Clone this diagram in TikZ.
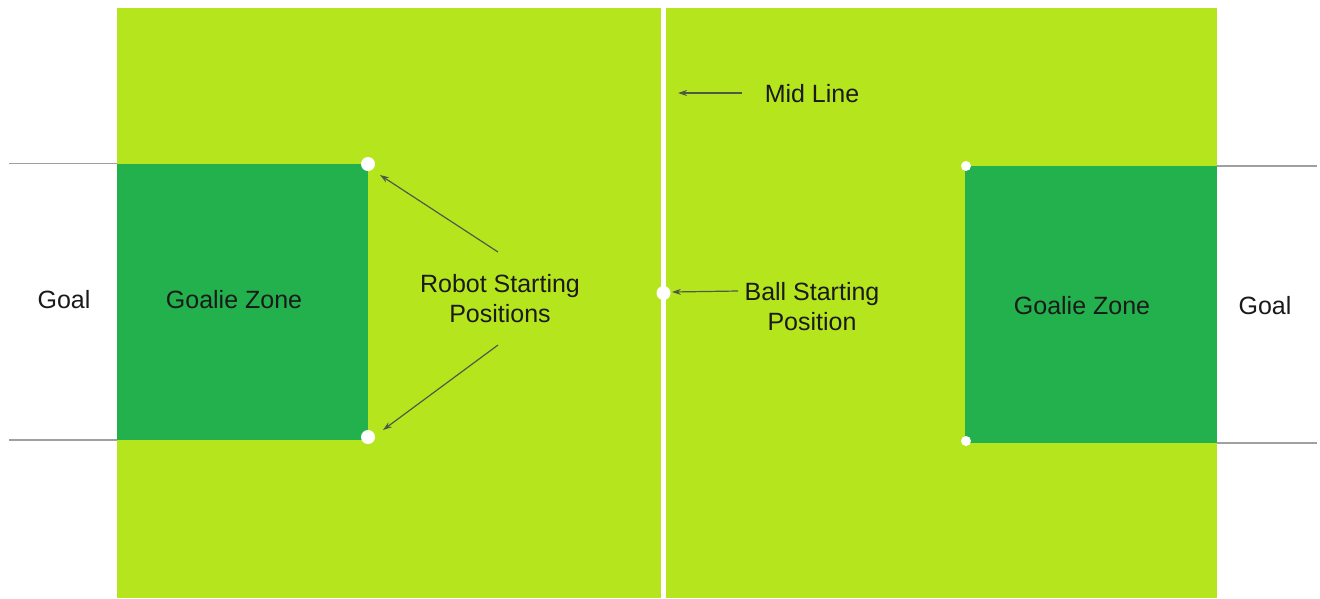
\documentclass[tikz,border=0pt]{standalone}
\usepackage{fontspec}
\setmainfont{Liberation Sans}
\usetikzlibrary{arrows.meta}
\definecolor{lime}{HTML}{B5E61D}
\definecolor{zone}{HTML}{22B14C}
\definecolor{goalline}{HTML}{A0A0A0}
\definecolor{arrowc}{HTML}{4E5A48}
\definecolor{txt}{HTML}{1A1A1A}
\begin{document}
\begin{tikzpicture}[x=1pt,y=-1pt,
  lbl/.style={text=txt,font=\fontsize{25}{29.5}\selectfont,align=center,inner sep=0pt,anchor=base},
  dot/.style={circle,fill=white,inner sep=0pt,minimum size=#1},
  pointer/.style={draw=arrowc,line width=1.2pt,-{Stealth[length=9pt,width=6pt]}},
  goalline/.style={draw=goalline,line width=1.3pt}]
\useasboundingbox (0,0) rectangle (1320,598);
\fill[white] (0,0) rectangle (1320,598);
% field
\fill[lime] (116.5,8) rectangle (1216.5,598);
\fill[zone] (116.5,163.5) rectangle (368,440);
\fill[zone] (965,166) rectangle (1216.5,443);
% goal lines
\coordinate (gl1) at (9,163.5);   \coordinate (gl1e) at (116.5,163.5);
\coordinate (gl2) at (9,440);     \coordinate (gl2e) at (116.5,440);
\coordinate (gr1) at (1216.5,166); \coordinate (gr1e) at (1317,166);
\coordinate (gr2) at (1216.5,443); \coordinate (gr2e) at (1317,443);
\draw[goalline] (gl1) -- (gl1e);
\draw[goalline] (gl2) -- (gl2e);
\draw[goalline] (gr1) -- (gr1e);
\draw[goalline] (gr2) -- (gr2e);
% mid line
\coordinate (midtop) at (663.5,8);
\coordinate (midbot) at (663.5,598);
\draw[white,line width=5pt] (midtop) -- (midbot);
% dots
\node[dot=14pt] (rtl) at (368,164) {};
\node[dot=14pt] (rbl) at (368,437) {};
\node[dot=10pt] (rtr) at (966,166) {};
\node[dot=10pt] (rbr) at (966,441) {};
\node[dot=14pt] (ball) at (663.5,293) {};
% labels
\node[lbl] (goalL) at (64,308) {Goal};
\node[lbl] (zoneL) at (234,308) {Goalie Zone};
\node[lbl] (zoneR) at (1082,314) {Goalie Zone};
\node[lbl] (goalR) at (1265,314) {Goal};
\node[lbl] (midlbl) at (812,102) {Mid Line};
\node[lbl] (robot) at (500,322) {Robot Starting\\Positions};
\node[lbl] (balllbl) at (812,330) {Ball Starting\\Position};
% arrows
\coordinate (ra1) at (498,252); \coordinate (ra1e) at (380,175);
\coordinate (ra2) at (498,345); \coordinate (ra2e) at (383,430);
\coordinate (ma) at (742,93);   \coordinate (mae) at (678,93);
\coordinate (ba) at (738,291);  \coordinate (bae) at (672,292);
\draw[pointer] (ra1) -- (ra1e);
\draw[pointer] (ra2) -- (ra2e);
\draw[pointer] (ma) -- (mae);
\draw[pointer] (ba) -- (bae);
\end{tikzpicture}
\end{document}
